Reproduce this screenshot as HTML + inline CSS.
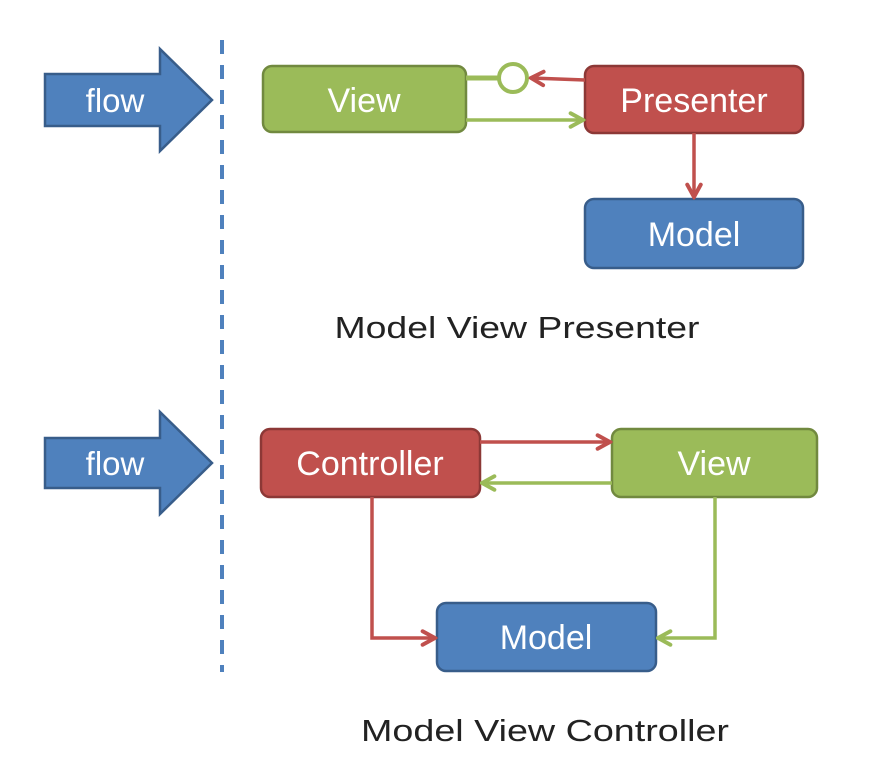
<!DOCTYPE html>
<html><head><style>html,body{margin:0;padding:0;background:#fff;width:882px;height:770px;overflow:hidden}</style></head>
<body>
<svg width="882" height="770" xmlns="http://www.w3.org/2000/svg" font-family="'Liberation Sans', sans-serif">
<defs>
<marker id="ar" viewBox="0 0 16 16" refX="14" refY="8" markerWidth="18" markerHeight="18" markerUnits="userSpaceOnUse" orient="auto"><path d="M3,2 L14,8 L3,14" fill="none" stroke="#c0504d" stroke-width="3.5" stroke-linecap="round"/></marker>
<marker id="ag" viewBox="0 0 16 16" refX="14" refY="8" markerWidth="18" markerHeight="18" markerUnits="userSpaceOnUse" orient="auto"><path d="M3,2 L14,8 L3,14" fill="none" stroke="#9bbb59" stroke-width="3.5" stroke-linecap="round"/></marker>
</defs>
<!-- flow arrows -->
<path d="M45,74 L160,74 L160,49 L212,100 L160,151 L160,126 L45,126 Z" fill="#4f81bd" stroke="#385d8a" stroke-width="2.5"/>
<text x="115" y="112" fill="#fff" font-size="33" text-anchor="middle">flow</text>
<path d="M45,438 L160,438 L160,412 L212,463 L160,514 L160,488 L45,488 Z" fill="#4f81bd" stroke="#385d8a" stroke-width="2.5"/>
<text x="115" y="475" fill="#fff" font-size="33" text-anchor="middle">flow</text>
<line x1="222" y1="40" x2="222" y2="672" stroke="#4f81bd" stroke-width="4" stroke-dasharray="14,11"/>
<!-- MVP -->
<rect x="263" y="66" width="203" height="66" rx="9" fill="#9bbb59" stroke="#71893f" stroke-width="2.5"/>
<text x="364" y="112" fill="#fff" font-size="34" text-anchor="middle">View</text>
<rect x="585" y="66" width="218" height="67" rx="9" fill="#c0504d" stroke="#8c3836" stroke-width="2.5"/>
<text x="694" y="112" fill="#fff" font-size="34" text-anchor="middle">Presenter</text>
<rect x="585" y="199" width="218" height="69" rx="9" fill="#4f81bd" stroke="#385d8a" stroke-width="2.5"/>
<text x="694" y="246" fill="#fff" font-size="34" text-anchor="middle">Model</text>
<line x1="466" y1="78" x2="499" y2="78" stroke="#9bbb59" stroke-width="5"/>
<circle cx="513" cy="78" r="14" fill="#fff" stroke="#9bbb59" stroke-width="4"/>
<line x1="585" y1="80" x2="531" y2="78" stroke="#c0504d" stroke-width="3.5" marker-end="url(#ar)"/>
<line x1="466" y1="120" x2="583" y2="120" stroke="#9bbb59" stroke-width="3.5" marker-end="url(#ag)"/>
<line x1="694" y1="133" x2="694" y2="197" stroke="#c0504d" stroke-width="3.5" marker-end="url(#ar)"/>
<text x="517" y="338" fill="#222" font-size="31" text-anchor="middle" textLength="365" lengthAdjust="spacingAndGlyphs">Model View Presenter</text>
<!-- MVC -->
<rect x="261" y="429" width="219" height="68" rx="9" fill="#c0504d" stroke="#8c3836" stroke-width="2.5"/>
<text x="370" y="475" fill="#fff" font-size="34" text-anchor="middle">Controller</text>
<rect x="612" y="429" width="205" height="68" rx="9" fill="#9bbb59" stroke="#71893f" stroke-width="2.5"/>
<text x="714" y="475" fill="#fff" font-size="34" text-anchor="middle">View</text>
<rect x="437" y="603" width="219" height="68" rx="9" fill="#4f81bd" stroke="#385d8a" stroke-width="2.5"/>
<text x="546" y="649" fill="#fff" font-size="34" text-anchor="middle">Model</text>
<line x1="480" y1="442" x2="610" y2="442" stroke="#c0504d" stroke-width="3.5" marker-end="url(#ar)"/>
<line x1="612" y1="483" x2="482" y2="483" stroke="#9bbb59" stroke-width="3.5" marker-end="url(#ag)"/>
<polyline points="372,497 372,638 435,638" fill="none" stroke="#c0504d" stroke-width="3.5" marker-end="url(#ar)"/>
<polyline points="715,497 715,638 658,638" fill="none" stroke="#9bbb59" stroke-width="3.5" marker-end="url(#ag)"/>
<text x="545" y="741" fill="#222" font-size="31" text-anchor="middle" textLength="368" lengthAdjust="spacingAndGlyphs">Model View Controller</text>
</svg>
</body></html>
